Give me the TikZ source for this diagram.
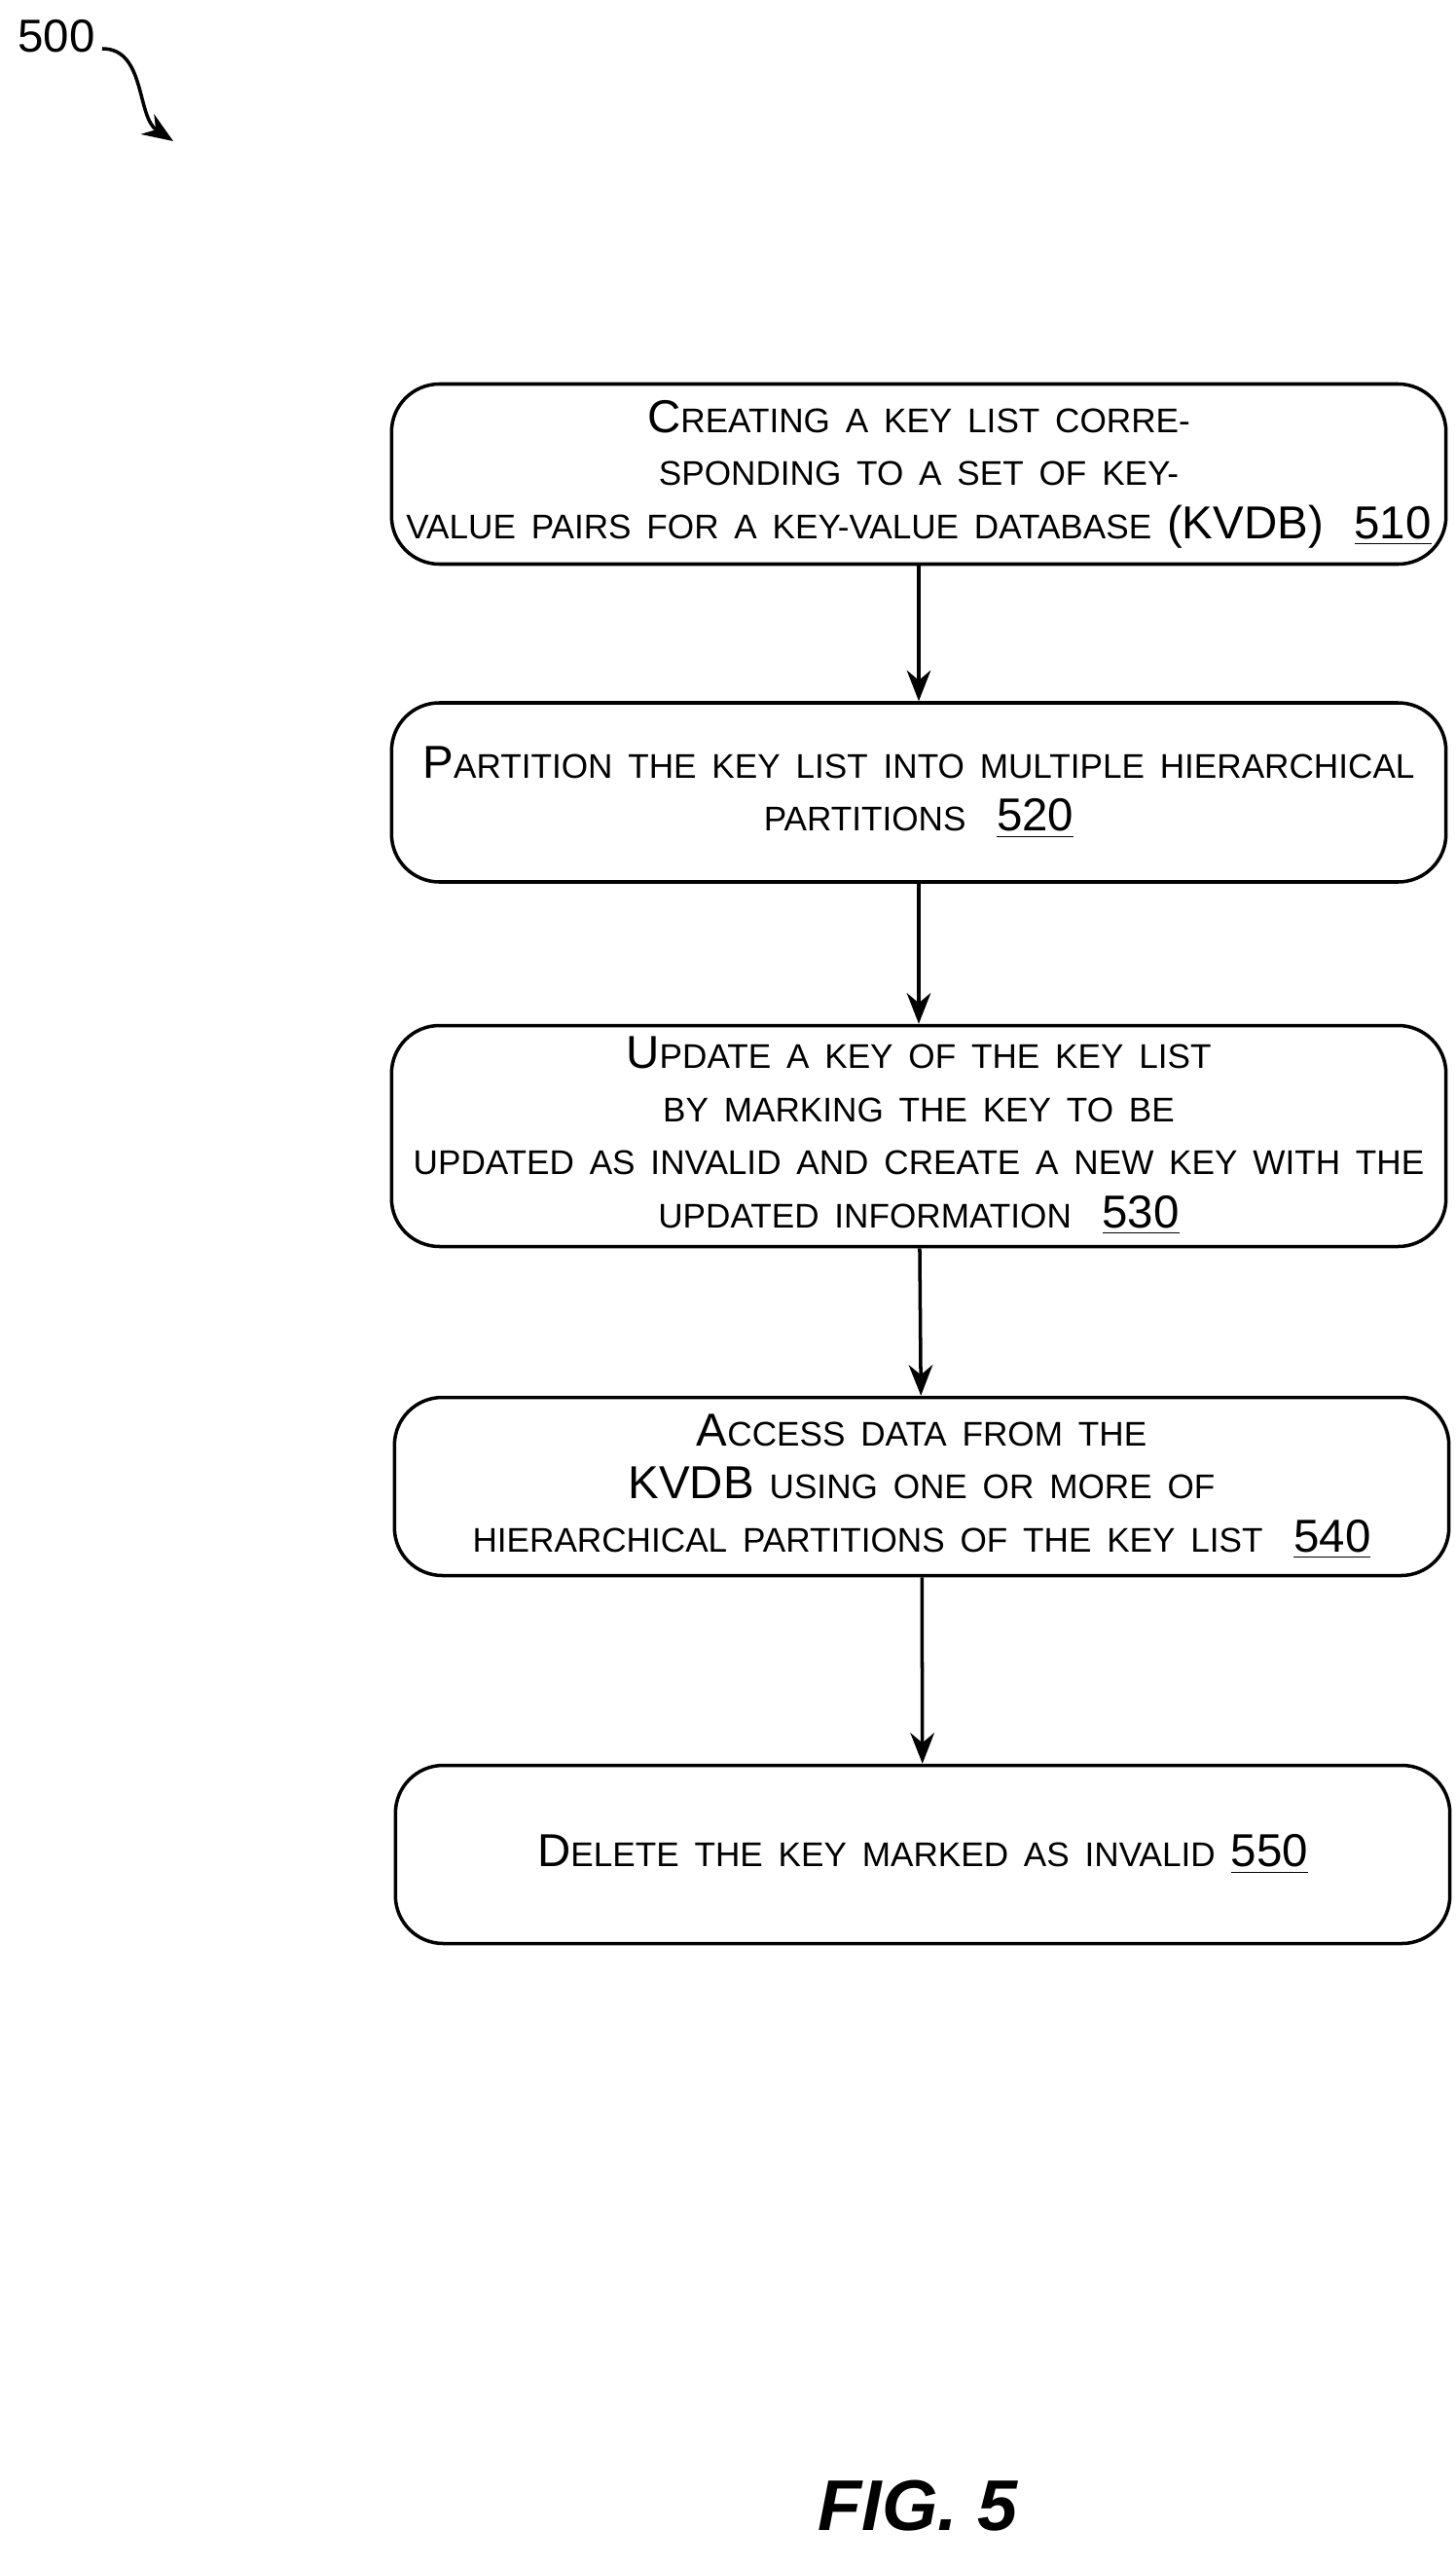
\documentclass[tikz,border=0pt]{standalone}
\usepackage{fontspec}
\setmainfont{Liberation Sans}
\usetikzlibrary{positioning,arrows.meta}
\newcommand{\capl}[1]{{\fontsize{13.5}{15.5}\selectfont #1}}
\newcommand{\smc}[1]{{\fontsize{10}{15.5}\selectfont\MakeUppercase{#1}}}
\tikzset{
  stepbox/.style={draw,rounded corners=14pt,line width=1pt,minimum width=10.79cm,
    align=center,text width=10.6cm,font=\fontsize{13.5}{15.5}\selectfont},
  flow/.style={-{Stealth[length=9pt,width=7pt]},line width=1pt}
}
\begin{document}
\begin{tikzpicture}
\useasboundingbox (0,0) rectangle (14.95,-26.36);

\node (lbl) at (0.58,-0.37) {\fontsize{13.5}{15}\selectfont 500};
\coordinate (lblend) at (1.78,-1.45);
\draw[flow] (1.05,-0.5) .. controls (1.5,-0.5) and (1.4,-1.2) .. (lblend);

\node[stepbox,minimum height=1.85cm] (s510) at (9.44,-4.87)
  {\capl{C}\smc{reating a key list corresponding to a set of key-}\\
   \smc{value pairs for a key-value database} (KVDB)~~\underline{510}};
\node[stepbox,minimum height=1.84cm] (s520) at (9.44,-8.14)
  {\capl{P}\smc{artition the key list into multiple hierarchical}\\
   \smc{partitions}~~\underline{520}};
\node[stepbox,minimum height=2.14cm] (s530) at (9.44,-11.67)
  {\capl{U}\smc{pdate a key of the key list by marking the key to be}\\
   \smc{updated as invalid and create a new key with the}\\
   \smc{updated information}~~\underline{530}};
\node[stepbox,minimum height=1.83cm] (s540) at (9.47,-15.27)
  {\capl{A}\smc{ccess data from the} KVDB \smc{using one or more of}\\
   \smc{hierarchical partitions of the key list}~~\underline{540}};
\node[stepbox,minimum height=1.83cm] (s550) at (9.48,-19.05)
  {\capl{D}\smc{elete the key marked as invalid} \underline{550}};

\draw[flow] (s510) -- (s520);
\draw[flow] (s520) -- (s530);
\draw[flow] (s530) -- (s540);
\draw[flow] (s540) -- (s550);

\node (fig) at (9.43,-25.74) {\fontsize{21}{24}\selectfont\bfseries\itshape FIG. 5};
\end{tikzpicture}
\end{document}
